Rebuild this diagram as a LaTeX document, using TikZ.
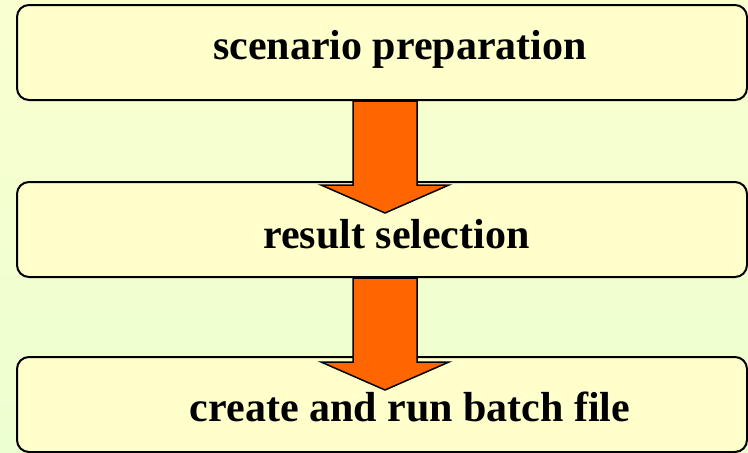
\documentclass[tikz,border=0pt]{standalone}
\usepackage{fontspec}
\setmainfont{Liberation Serif}
\usetikzlibrary{calc}
\definecolor{bgtop}{HTML}{FAFFD0}
\definecolor{bgbot}{HTML}{ECFFD0}
\definecolor{boxfill}{HTML}{FFFFCC}
\definecolor{arroworange}{HTML}{FF6600}
\tikzset{
  stagebox/.style={draw=black, line width=2pt, fill=boxfill, rounded corners=12pt,
    minimum width=730pt, minimum height=95pt, inner sep=0pt},
  stagetext/.style={anchor=base, font=\fontsize{42}{50}\selectfont\bfseries, inner sep=0pt},
  blockarrow/.style={draw=black, line width=1.5pt, fill=arroworange, line join=miter}
}
\begin{document}
\begin{tikzpicture}[x=1pt, y=-1pt]
  % page and background
  \useasboundingbox (0,0) rectangle (748,453);
  \shade[top color=bgtop, bottom color=bgbot] (0,0) rectangle (748,453);

  % the three stages
  \node[stagebox] (b1) at (382,52.5) {};
  \node[stagebox] (b2) at (382,229.5) {};
  \node[stagebox] (b3) at (382,404.5) {};

  \node[stagetext] (t1) at (400,59) {scenario preparation};
  \node[stagetext] (t2) at (396.5,248) {result selection};
  \node[stagetext] (t3) at (410,421) {create and run batch file};

  % block arrows between the stages
  \foreach \from/\to in {b1/b2, b2/b3} {
    \path (\from.south) ++(3,0) coordinate (s);
    \draw[blockarrow] (s) ++(-32,0) -- ++(0,84) -- ++(-32,0) -- ++(64,28)
      -- ++(64,-28) -- ++(-32,0) -- ++(0,-84) -- cycle;
  }
\end{tikzpicture}
\end{document}
